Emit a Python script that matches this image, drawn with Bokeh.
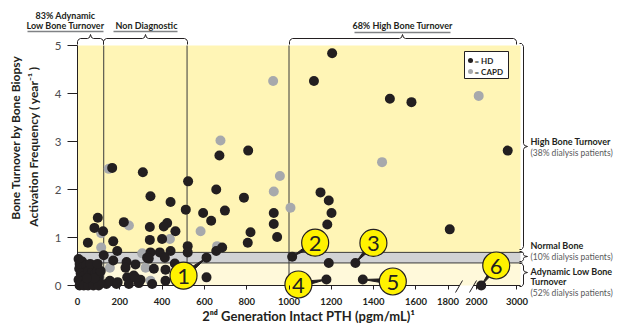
import math
import numpy as np
from bokeh.plotting import figure
from bokeh.models import Range1d, FixedTicker
from bokeh.core.properties import value
from bokeh.embed import file_html
from bokeh.resources import INLINE

# ---------------- data ----------------
hd_pth = [1204, 1118, 1477, 1579, 2770, 1149, 1188, 1201, 928, 928,
          1181, 944, 1812, 1015, 1188, 1314, 1177, 1349, 2115,
          671, 807, 164, 309, 523, 656, 345, 787, 440, 512,
          594, 697, 632, 96, 219, 80, 121, 424, 408, 342,
          463, 818, 805, 49, 169, 342, 400, 521, 188, 521,
          684, 656, 610, 124, 345, 389, 440, 329, 413, 169,
          232, 274, 227, 361, 416, 460, 610, 235, 266, 298,
          353, 416, 184, 137, 243, 290, 153, 190, 274, 337,
          5, 10, 22, 8, 25, 40, 15, 30, 50, 60,
          70, 85, 95, 100, 5, 20, 40, 55, 70, 90,
          105, 10, 30, 50, 75, 100, 60, 80, 110, 45, 95]
hd_act = [4.84, 4.26, 3.89, 3.82, 2.81, 1.94, 1.77, 1.51, 1.51, 1.28,
          1.27, 1.01, 1.17, 0.60, 0.47, 0.47, 0.125, 0.125, 0.0,
          2.71, 2.81, 2.45, 2.36, 2.17, 2.0, 1.86, 1.83, 1.74, 1.58,
          1.51, 1.56, 1.35, 1.41, 1.32, 1.2, 1.13, 1.3, 1.23, 1.22,
          1.13, 1.11, 0.89, 0.89, 0.92, 0.95, 0.97, 0.82, 0.72, 0.69,
          0.79, 0.72, 0.58, 0.63, 0.69, 0.69, 0.72, 0.58, 0.58, 0.52,
          0.49, 0.44, 0.37, 0.35, 0.33, 0.46, 0.17, 0.17, 0.21, 0.12,
          0.03, 0.10, 0.03, 0.03, 0.03, 0.05, 0.10, 0.07, 0.16, 0.56,
          0.55, 0.45, 0.50, 0.35, 0.38, 0.42, 0.25, 0.20, 0.30, 0.22,
          0.30, 0.25, 0.30, 0.18, 0.12, 0.08, 0.05, 0.10, 0.05, 0.08,
          0.05, 0.0, 0.0, 0.0, 0.0, 0.0, 0.45, 0.15, 0.30, 0.15, 0.45]

capd_pth = [925, 2052, 1440, 957, 928, 1007, 676, 148, 243, 112, 582,
            437, 112, 660, 306, 153, 322, 345, 77, 45, 70, 20]
capd_act = [4.26, 3.95, 2.57, 2.28, 1.96, 1.62, 3.02, 2.43, 1.25, 1.09, 1.13,
            0.97, 0.79, 0.82, 0.67, 0.37, 0.37, 0.10, 0.37, 0.20, 0.15, 0.30]

x_tick_values = [0, 200, 400, 600, 800, 1000, 1200, 1400, 1600, 1800, 2000, 3000]
x_tick_labels = [str(v) for v in x_tick_values]
y_tick_values = [0, 1, 2, 3, 4, 5]

# broken x axis: PTH value -> axis position
break_pth = [0, 1600, 1800, 2000, 3000]
break_pos = [0, 1600, 1752, 1887, 2078]

pth_cuts = [124, 518, 1000]
normal_band = [0.47, 0.69]
act_max = 5

callout_labels = ["1", "2", "3", "4", "5", "6"]
callout_pth = [610, 1015, 1314, 1177, 1349, 2115]
callout_act = [0.58, 0.60, 0.47, 0.125, 0.125, 0.0]


def to_axis(v):
    return np.interp(v, break_pth, break_pos)


# ---------------- layout ----------------
W, H = 617, 324
PX, PY = 0.2115, 48.0          # pixels per axis unit
OX, OY = 77, 285               # canvas pixel of value (0, 0)


def ux(px):
    return (px - OX) / PX


def uy(py):
    return (OY - py) / PY


def pxx(u):
    return OX + u * PX


def pyy(a):
    return OY - a * PY


FONT = value("Lato")
INK = "#231F20"
YELLOW = "#FFF5B6"
LIGHT = "#FFF9DA"
GREY_BAND = "#D1D2D4"

p = figure(width=W, height=H, x_range=Range1d(ux(0), ux(W)), y_range=Range1d(uy(H), uy(0)),
           output_backend="svg", toolbar_location=None, title=None,
           min_border_left=0, min_border_right=0, min_border_top=0, min_border_bottom=0)
p.grid.visible = False
p.outline_line_color = None
p.background_fill_color = "white"
p.border_fill_color = "white"

# axes (drawn at the value 0 of the other dimension)
ticks = [int(round(float(to_axis(v)))) for v in x_tick_values]
p.xaxis.ticker = FixedTicker(ticks=ticks)
p.xaxis.major_label_overrides = {t: lab for t, lab in zip(ticks, x_tick_labels)}
p.xaxis.fixed_location = 0
p.xaxis.axis_line_color = None
p.xaxis.major_tick_out = 4
p.xaxis.major_tick_in = 0
p.xaxis.minor_tick_line_color = None
p.xaxis.major_tick_line_color = INK
p.xaxis.major_label_standoff = 8
p.xaxis.major_label_text_font = "Lato"
p.xaxis.major_label_text_font_style = "bold"
p.xaxis.major_label_text_font_size = "9.5px"
p.xaxis.major_label_text_color = INK

p.yaxis.ticker = FixedTicker(ticks=y_tick_values)
p.yaxis.fixed_location = 0
p.yaxis.bounds = (0, act_max)
p.yaxis.axis_line_color = INK
p.yaxis.major_tick_out = 10
p.yaxis.major_tick_in = 0
p.yaxis.minor_tick_line_color = None
p.yaxis.major_tick_line_color = INK
p.yaxis.major_label_standoff = 6
p.yaxis.major_label_text_font = "Lato"
p.yaxis.major_label_text_font_size = "11.5px"
p.yaxis.major_label_text_color = "#4D4D4F"

# bands
band_right = ux(520)
p.quad(left=[0, 0, 0], right=[band_right] * 3,
       bottom=[0, normal_band[0], normal_band[1]],
       top=[normal_band[0], normal_band[1], act_max],
       fill_color=[LIGHT, GREY_BAND, YELLOW], line_color=None)
p.segment(x0=[0, 0], x1=[ux(522)] * 2, y0=normal_band, y1=normal_band,
          line_color="#3A3A3A", line_width=1)
p.segment(x0=pth_cuts, x1=pth_cuts, y0=[0] * 3, y1=[act_max] * 3,
          line_color="#3A3A3A", line_width=1)

# broken x-axis line
p.segment(x0=[ux(70), ux(473)], x1=[ux(459), ux(520)], y0=[0, 0], y1=[0, 0],
          line_color=INK, line_width=1.2)
p.segment(x0=[ux(455), ux(469)], x1=[ux(462), ux(476)], y0=[uy(292)] * 2, y1=[uy(280)] * 2,
          line_color=INK, line_width=1)


# braces
def hbrace(x0, x1, tip, yb):
    xs = [x0, x0, x0 + 1, x0 + 3, tip - 3, tip - 1, tip, tip + 1, tip + 3, x1 - 3, x1 - 1, x1, x1]
    ys = [yb + 6, yb + 3, yb + 1, yb, yb, yb - 1, yb - 4, yb - 1, yb, yb, yb + 1, yb + 3, yb + 6]
    return [ux(v) for v in xs], [uy(v) for v in ys]


def vbrace(y0, y1, tip, xb, c=3.0):
    xs = [xb - 4, xb - 2, xb - 1, xb, xb, xb + 1, xb + 4, xb + 1, xb, xb, xb - 1, xb - 2, xb - 4]
    ys = [y0, y0, y0 + c / 3, y0 + c, tip - c, tip - c / 3, tip, tip + c / 3, tip + c,
          y1 - c, y1 - c / 3, y1, y1]
    return [ux(v) for v in xs], [uy(v) for v in ys]


braces = [hbrace(77, 103, 90, 38), hbrace(103, 187, 145, 38), hbrace(289, 516, 402, 38),
          vbrace(43, 249, 146, 523), vbrace(251, 261, 256, 523, 1.8), vbrace(263, 286, 272, 523, 2.5)]
p.multi_line(xs=[b[0] for b in braces], ys=[b[1] for b in braces], line_color=INK, line_width=1)

# top headings
p.text(x=[ux(65), ux(65), ux(146), ux(402)], y=[uy(15), uy(25), uy(25), uy(25)],
       text=["83% Adynamic", "Low Bone Turnover", "Non Diagnostic", "68% High Bone Turnover"],
       text_font=FONT, text_font_style="bold", text_font_size="9px", text_color=INK,
       text_align="center", text_baseline="middle")
p.segment(x0=[ux(27), ux(113), ux(354)], x1=[ux(103), ux(177), ux(450)],
          y0=[uy(31), uy(31), uy(32)], y1=[uy(31), uy(31), uy(32)],
          line_color="#808285", line_width=1.5)

# right-hand labels
p.text(x=[ux(530)] * 4, y=[uy(141), uy(245), uy(271), uy(281)],
       text=["High Bone Turnover", "Normal Bone", "Adynamic Low Bone", "Turnover"],
       text_font=FONT, text_font_style="bold", text_font_size="9px", text_color=INK,
       text_align="left", text_baseline="middle")
p.text(x=[ux(530)] * 3, y=[uy(152), uy(256), uy(292)],
       text=["(38% dialysis patients)", "(10% dialysis patients)", "(52% dialysis patients)"],
       text_font=FONT, text_font_size="8.5px", text_color="#58595B",
       text_align="left", text_baseline="middle")

# points
p.scatter(x=to_axis(capd_pth), y=capd_act, size=10, fill_color="#A7A9AC", line_color=None)
p.scatter(x=to_axis(hd_pth), y=hd_act, size=10, fill_color=INK, line_color=None)

# callouts
callout_dx = [-23, 23, 18, -28, 30, 15]
callout_dy = [18, -14, -20, 5, 2, -20]
cxs, cys, wxs, wys = [], [], [], []
for pth, act, dx, dy in zip(callout_pth, callout_act, callout_dx, callout_dy):
    tx, ty = pxx(float(to_axis(pth))), pyy(act)
    cx, cy = tx + dx, ty + dy
    L = math.hypot(tx - cx, ty - cy)
    nx, ny = -(ty - cy) / L, (tx - cx) / L
    wxs.append([ux(cx + 3 * nx), ux(cx - 3 * nx), ux(tx)])
    wys.append([uy(cy + 3 * ny), uy(cy - 3 * ny), uy(ty)])
    cxs.append(ux(cx))
    cys.append(uy(cy))
p.patches(xs=wxs, ys=wys, fill_color=INK, line_color=INK, line_width=1)
p.scatter(x=cxs, y=cys, size=27, fill_color="#FFF200", line_color=INK, line_width=1.2)
p.text(x=cxs, y=[c - 1 / PY for c in cys], text=callout_labels, text_font=FONT,
       text_font_size="22px", text_color=INK, text_align="center", text_baseline="middle")

# legend box
p.quad(left=[ux(464)], right=[ux(508)], top=[uy(51)], bottom=[uy(78)],
       fill_color="white", line_color=INK, line_width=1)
p.scatter(x=[ux(470)], y=[uy(60)], size=5, fill_color=INK, line_color=None)
p.scatter(x=[ux(470)], y=[uy(71)], size=5, fill_color="#A7A9AC", line_color=None)
p.text(x=[ux(474), ux(474)], y=[uy(60), uy(71)], text=["= HD", "= CAPD"],
       text_font=FONT, text_font_style="bold", text_font_size="8px", text_color=INK,
       text_align="left", text_baseline="middle")

# axis titles
p.text(x=[ux(15), ux(33)], y=[uy(137), uy(146)],
       text=["Bone Turnover by Bone Biopsy", "Activation Frequency ( year\u207b\u00b9 )"],
       angle=math.pi / 2, text_font=FONT, text_font_style="bold", text_font_size="12px",
       text_color=INK, text_align="center", text_baseline="middle")
p.text(x=[ux(308)], y=[uy(315)], text=["2\u207f\u1d48 Generation Intact PTH (pgm/mL)\u00b9"],
       text_font=FONT, text_font_style="bold", text_font_size="13px", text_color=INK,
       text_align="center", text_baseline="alphabetic")

open("out.html", "w").write(file_html(p, INLINE))
